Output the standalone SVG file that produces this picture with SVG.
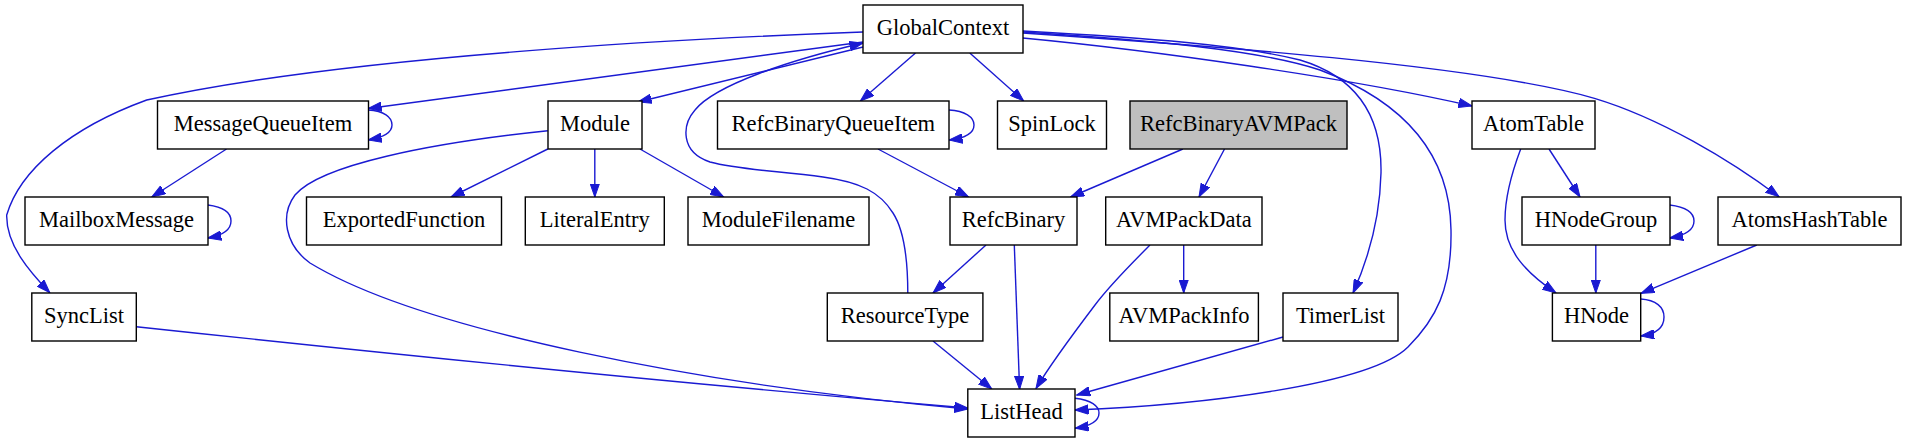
<svg xmlns="http://www.w3.org/2000/svg" width="1906" height="443" viewBox="0 0 1906 443">
<style>
.n rect{fill:#ffffff;stroke:#000000;stroke-width:1.4}
.n.g rect{fill:#bfbfbf}
.n text{font-family:"Liberation Serif","Times New Roman",serif;font-size:22.5px;text-anchor:middle;fill:#000000}
.e path{fill:none;stroke:#1a1ad2;stroke-width:1.4;marker-end:url(#a)}
</style>
<defs>
<marker id="a" viewBox="0 0 14 10" refX="13.5" refY="5" markerWidth="14" markerHeight="10" orient="auto" markerUnits="userSpaceOnUse">
<path d="M0,0.3 L13.5,5 L0,9.7 z" fill="#1a1ad2" stroke="#1a1ad2" stroke-width="1"/>
</marker>
</defs>
<rect width="1906" height="443" fill="#ffffff"/>
<g id="edges" class="e">
<path d="M863,42 L368.2,108.5"/>
<path d="M863,32 C700,38 350,55 146.7,100 C70,128 20,170 6.7,215 C6,245 30,272 49.8,292.7"/>
<path d="M863,47 L638,102"/>
<path d="M915.5,53 L860.4,101"/>
<path d="M969.8,53 L1023.7,101"/>
<path d="M1022.7,38 C1150,50 1350,78 1472,106"/>
<path d="M1022.7,33 C1200,45 1480,65 1594.5,98.3 C1660,118 1730,160 1779,196.7"/>
<path d="M1022.7,31 C1150,38 1240,45 1300,60 C1360,78 1382,120 1381,173 C1380,215 1370,255 1353,293"/>
<path d="M1022.7,32 C1150,40 1260,50 1320,70 C1400,100 1450,150 1451,230 C1452,290 1435,320 1408,347 C1370,385 1200,405 1075,410"/>
<path d="M907.8,293.3 C907.8,260 904,230 893,213 C880,192 860,182 823,177 C780,171 740,170 710,162 C680,152 682,125 695,110 C715,85 790,60 863,43"/>
<path d="M368.2,110 C384,111 392,117 392,125 C392,132 386,137 368.2,140"/>
<path d="M226.5,149 L151.8,197"/>
<path d="M207.8,205 C224,207 231,213 231,221 C231,229 225,235 207.8,238"/>
<path d="M547.8,149 L451,197"/>
<path d="M594.8,149 L594.8,197"/>
<path d="M640,149 L723.7,197"/>
<path d="M547.8,130.7 C430,143 320,165 295,195 C280,215 285,245 310,263 C420,330 700,385 967.8,409"/>
<path d="M949,110 C965,111 974,117 974,125 C974,133 967,138 949,140"/>
<path d="M878,149 L968.6,197"/>
<path d="M1182.9,149 L1070.6,197"/>
<path d="M1224.5,149 L1199,197"/>
<path d="M1549,149 L1580,197"/>
<path d="M1520.7,149 C1512,172 1505,195 1505,220 C1505,250 1525,272 1556,293"/>
<path d="M1669.6,205 C1686,207 1694,213 1694,221 C1694,229 1688,235 1669.6,238"/>
<path d="M1595.8,245 L1595.8,293"/>
<path d="M1756.8,245 L1641,293.3"/>
<path d="M1640.7,299 C1656,300 1664,307 1664,317 C1664,327 1657,334 1640.7,336"/>
<path d="M1150,245 C1130,265 1110,285 1095,305 C1070,338 1050,365 1036,388.5"/>
<path d="M1183.7,245 L1183.7,293"/>
<path d="M986,245 L933,293"/>
<path d="M1014.3,245 L1019.6,389.3"/>
<path d="M933,341 L991.8,389"/>
<path d="M136.3,326.7 C400,355 700,385 967.8,408"/>
<path d="M1283,337 L1076.7,395"/>
<path d="M1075,398.3 C1091,400 1099,406 1099,413 C1099,421 1091,426 1075,428.3"/>
</g>
<g id="GlobalContext" class="n"><rect x="863" y="5" width="160" height="48"/><text x="943" y="34.5">GlobalContext</text></g>
<g id="MessageQueueItem" class="n"><rect x="157.5" y="101" width="211" height="48"/><text x="263" y="130.5">MessageQueueItem</text></g>
<g id="Module" class="n"><rect x="548" y="101" width="94" height="48"/><text x="595" y="130.5">Module</text></g>
<g id="RefcBinaryQueueItem" class="n"><rect x="717.5" y="101" width="231.5" height="48"/><text x="833.3" y="130.5">RefcBinaryQueueItem</text></g>
<g id="SpinLock" class="n"><rect x="997.5" y="101" width="109" height="48"/><text x="1052" y="130.5">SpinLock</text></g>
<g id="RefcBinaryAVMPack" class="n g"><rect x="1130" y="101" width="217" height="48"/><text x="1238.5" y="130.5">RefcBinaryAVMPack</text></g>
<g id="AtomTable" class="n"><rect x="1472" y="101" width="123" height="48"/><text x="1533.5" y="130.5">AtomTable</text></g>
<g id="MailboxMessage" class="n"><rect x="25" y="197" width="183" height="48"/><text x="116.5" y="226.5">MailboxMessage</text></g>
<g id="ExportedFunction" class="n"><rect x="306.5" y="197" width="195" height="48"/><text x="404" y="226.5">ExportedFunction</text></g>
<g id="LiteralEntry" class="n"><rect x="525.3" y="197" width="139" height="48"/><text x="594.8" y="226.5">LiteralEntry</text></g>
<g id="ModuleFilename" class="n"><rect x="688" y="197" width="181" height="48"/><text x="778.5" y="226.5">ModuleFilename</text></g>
<g id="RefcBinary" class="n"><rect x="950" y="197" width="127" height="48"/><text x="1013.5" y="226.5">RefcBinary</text></g>
<g id="AVMPackData" class="n"><rect x="1105.7" y="197" width="156.3" height="48"/><text x="1183.8" y="226.5">AVMPackData</text></g>
<g id="HNodeGroup" class="n"><rect x="1522" y="197" width="148" height="48"/><text x="1596" y="226.5">HNodeGroup</text></g>
<g id="AtomsHashTable" class="n"><rect x="1718" y="197" width="183" height="48"/><text x="1809.5" y="226.5">AtomsHashTable</text></g>
<g id="SyncList" class="n"><rect x="31.8" y="293" width="104.5" height="48"/><text x="84" y="322.5">SyncList</text></g>
<g id="ResourceType" class="n"><rect x="827.3" y="293" width="155.6" height="48"/><text x="905" y="322.5">ResourceType</text></g>
<g id="AVMPackInfo" class="n"><rect x="1109.8" y="293" width="148.6" height="48"/><text x="1184" y="322.5">AVMPackInfo</text></g>
<g id="TimerList" class="n"><rect x="1283" y="293" width="115" height="48"/><text x="1340.5" y="322.5">TimerList</text></g>
<g id="HNode" class="n"><rect x="1552.4" y="293" width="88.3" height="48"/><text x="1596.5" y="322.5">HNode</text></g>
<g id="ListHead" class="n"><rect x="967.8" y="389" width="107.2" height="48"/><text x="1021.4" y="418.5">ListHead</text></g>
</svg>
